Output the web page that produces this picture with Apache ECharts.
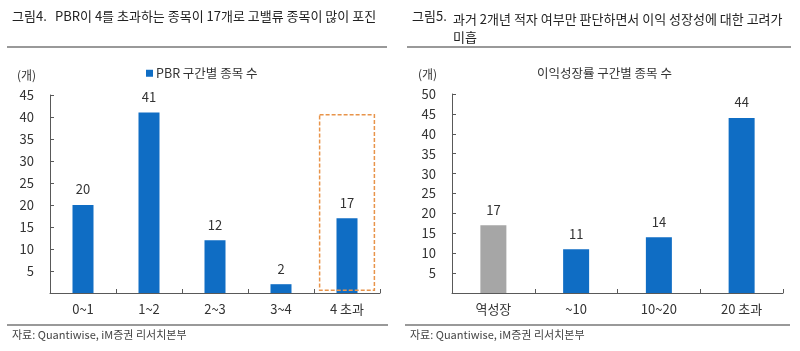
<!DOCTYPE html>
<html>
<head>
<meta charset="utf-8">
<script src="https://cdn.jsdelivr.net/npm/echarts@6/dist/echarts.min.js"></script>
<style>
  html, body { margin: 0; padding: 0; background: #fff; }
  #chart { width: 800px; height: 351px; }
</style>
</head>
<body>
<div id="chart"></div>
<script>
// 그림4 data
const pbrCategories = ["0~1", "1~2", "2~3", "3~4", "4 초과"];
const pbrCounts = [20, 41, 12, 2, 17];
// highlight box around the last category: [category index, low, high]
const pbrHighlight = [[4, 0.6, 40.5]];

// 그림5 data
const growthCategories = ["역성장", "~10", "10~20", "20 초과"];
const growthCounts = [17, 11, 14, 44];

const FONT = "'Noto Sans CJK KR', 'Noto Sans', sans-serif";
const BLUE = "#0f6dc4";
const GRAY = "#a6a6a6";
const AXIS = "#595959";
const TEXT = "#333";

const chart = echarts.init(document.getElementById("chart"), null, { renderer: "canvas" });

const catAxis = (gridIndex, data) => ({
  type: "category",
  gridIndex,
  data,
  axisLine: { lineStyle: { color: AXIS, width: 1 } },
  axisTick: { show: true, inside: true, length: 4, lineStyle: { color: AXIS } },
  axisLabel: { color: TEXT, fontSize: 13, fontFamily: FONT, margin: 10 },
});

const valAxis = (gridIndex, max) => ({
  type: "value",
  gridIndex,
  min: 0,
  max,
  interval: 5,
  splitLine: { show: false },
  axisLine: { show: true, lineStyle: { color: AXIS, width: 1 } },
  axisTick: { show: true, inside: true, length: 4, lineStyle: { color: AXIS } },
  axisLabel: {
    color: TEXT, fontSize: 13, fontFamily: FONT, margin: 16,
    formatter: (v) => (v === 0 ? "" : v),
  },
});

const labelStyle = { show: true, position: "top", distance: 9, color: TEXT, fontSize: 13, fontFamily: FONT };

chart.setOption({
  backgroundColor: "#fff",
  animation: false,
  textStyle: { fontFamily: FONT },
  grid: [
    { left: 50, right: 420, top: 95, bottom: 58 },
    { left: 452, right: 17, top: 94, bottom: 58 },
  ],
  legend: [
    {
      data: ["PBR 구간별 종목 수"],
      left: 141, top: 62,
      icon: "rect", itemWidth: 7, itemHeight: 7, itemGap: 4,
      textStyle: { color: TEXT, fontSize: 12.5, fontFamily: FONT, padding: [0, 0, 0, -2] },
    },
    {
      data: ["이익성장률 구간별 종목 수"],
      left: 527, top: 62,
      icon: "none", itemWidth: 0, itemHeight: 0,
      textStyle: { color: TEXT, fontSize: 12.5, fontFamily: FONT },
    },
  ],
  xAxis: [catAxis(0, pbrCategories), catAxis(1, growthCategories)],
  yAxis: [valAxis(0, 45), valAxis(1, 50)],
  series: [
    {
      name: "PBR 구간별 종목 수",
      type: "bar",
      xAxisIndex: 0, yAxisIndex: 0,
      barWidth: 21,
      itemStyle: { color: BLUE },
      label: labelStyle,
      data: pbrCounts,
    },
    {
      name: "highlight",
      type: "custom",
      xAxisIndex: 0, yAxisIndex: 0,
      silent: true,
      z: 5,
      renderItem: (params, api) => {
        const top = api.coord([api.value(0), api.value(2)]);
        const bottom = api.coord([api.value(0), api.value(1)]);
        const w = api.size([1, 0])[0] * 0.83;
        return {
          type: "rect",
          shape: { x: top[0] - w / 2, y: top[1], width: w, height: bottom[1] - top[1] },
          style: { fill: "none", stroke: "#e8944a", lineWidth: 1.5, lineDash: [4, 2] },
        };
      },
      data: pbrHighlight,
    },
    {
      name: "이익성장률 구간별 종목 수",
      type: "bar",
      xAxisIndex: 1, yAxisIndex: 1,
      barWidth: 26,
      itemStyle: { color: BLUE },
      label: labelStyle,
      data: growthCounts.map((v, i) => (i === 0 ? { value: v, itemStyle: { color: GRAY } } : v)),
    },
  ],
  graphic: [
    { type: "text", left: 12, top: 10, style: { text: "그림4.", fontSize: 13, fontFamily: FONT, fill: "#222" } },
    { type: "text", left: 55, top: 10, style: { text: "PBR이 4를 초과하는 종목이 17개로 고밸류 종목이 많이 포진", fontSize: 13, fontFamily: FONT, fill: "#222" } },
    { type: "text", left: 412, top: 10, style: { text: "그림5.", fontSize: 13, fontFamily: FONT, fill: "#222" } },
    { type: "text", left: 453, top: 10, style: { text: "과거 2개년 적자 여부만 판단하면서 이익 성장성에 대한 고려가\n미흡", fontSize: 13, lineHeight: 18, fontFamily: FONT, fill: "#222" } },
    { type: "line", shape: { x1: 7, y1: 47, x2: 387, y2: 47 }, style: { stroke: "#777", lineWidth: 1.5 } },
    { type: "line", shape: { x1: 407, y1: 47, x2: 791, y2: 47 }, style: { stroke: "#777", lineWidth: 1.5 } },
    { type: "text", left: 17, top: 69, style: { text: "(개)", fontSize: 12, fontFamily: FONT, fill: TEXT } },
    { type: "text", left: 418, top: 68, style: { text: "(개)", fontSize: 12, fontFamily: FONT, fill: TEXT } },
    { type: "line", shape: { x1: 7, y1: 325, x2: 388, y2: 325 }, style: { stroke: "#777", lineWidth: 1.5 } },
    { type: "line", shape: { x1: 405, y1: 325, x2: 790, y2: 325 }, style: { stroke: "#777", lineWidth: 1.5 } },
    { type: "text", left: 12, top: 329, style: { text: "자료: Quantiwise, iM증권 리서치본부", fontSize: 11, fontFamily: FONT, fill: "#444" } },
    { type: "text", left: 410, top: 329, style: { text: "자료: Quantiwise, iM증권 리서치본부", fontSize: 11, fontFamily: FONT, fill: "#444" } },
  ],
});
</script>
</body>
</html>
